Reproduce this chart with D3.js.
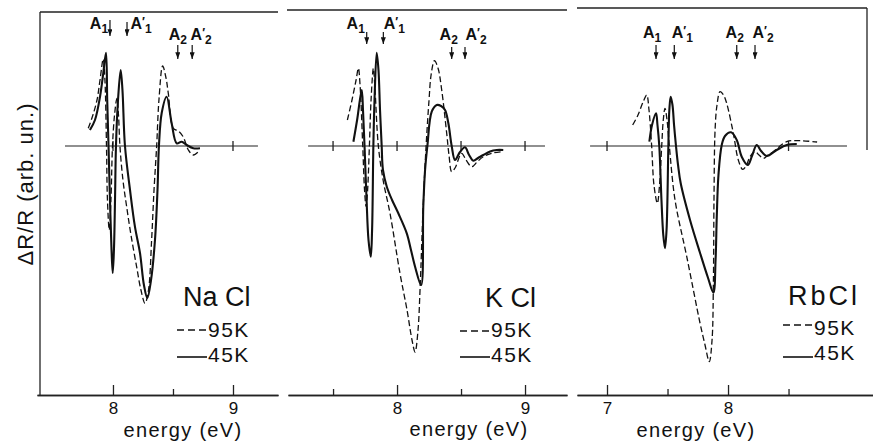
<!DOCTYPE html>
<html>
<head>
<meta charset="utf-8">
<script src="https://cdn.jsdelivr.net/npm/d3@7"></script>
<style>
  body { margin: 0; background: #fff; }
  svg text { font-family: "Liberation Sans", Arial, Helvetica, sans-serif; fill: #111; }
</style>
</head>
<body>
<div id="chart"></div>
<script>
// [energy (eV), dR/R (arb. un.)]
const nacl95 = [[7.794,1.77],[7.833,3.1],[7.867,4.6],[7.892,6.6],[7.919,8.7],[7.933,6.6],[7.946,0],[7.954,-5.4],[7.969,-8.4],[7.983,-5.4],[7.996,0],[8.013,3.1],[8.033,4.77],[8.046,3.1],[8.058,0],[8.083,-3.4],[8.114,-6.07],[8.15,-8.9],[8.197,-12.07],[8.233,-14.4],[8.267,-15.73],[8.296,-14.4],[8.322,-9.4],[8.342,-4.4],[8.364,0],[8.383,4.6],[8.414,8.0],[8.442,6.8],[8.461,5.27],[8.503,1.77],[8.544,1.5],[8.586,0.9],[8.628,-0.4],[8.669,-0.9],[8.725,-0.4]];
const nacl45 = [[7.808,1.6],[7.85,2.6],[7.892,4.93],[7.919,7.27],[7.942,9.33],[7.952,4.6],[7.963,0],[7.975,-5.4],[7.988,-10.4],[7.998,-12.7],[8.008,-10.4],[8.017,-5.4],[8.025,0],[8.042,4.6],[8.064,7.6],[8.079,5.6],[8.1,0],[8.142,-4.4],[8.183,-8.07],[8.225,-10.7],[8.258,-13.9],[8.286,-15.2],[8.317,-13.4],[8.35,-9.4],[8.371,-4.4],[8.383,0],[8.406,3.3],[8.447,4.93],[8.489,2.27],[8.531,0.27],[8.572,0.43],[8.614,0.1],[8.669,-0.23],[8.725,-0.23]];
const kcl95 = [[7.612,2.6],[7.648,4.6],[7.68,6.6],[7.698,7.77],[7.711,6.1],[7.732,0],[7.746,-4.4],[7.758,-6.07],[7.77,-4.4],[7.784,0],[7.797,4.6],[7.815,7.77],[7.828,5.6],[7.854,0],[7.891,-3.4],[7.945,-6.73],[8.023,-12.73],[8.078,-16.4],[8.117,-19.4],[8.141,-20.6],[8.164,-18.4],[8.18,-14.27],[8.203,-6.4],[8.227,0],[8.25,4.6],[8.266,7.1],[8.292,8.53],[8.32,7.8],[8.349,5.6],[8.388,1.27],[8.406,-0.9],[8.427,-2.57],[8.453,-2.2],[8.505,-0.73],[8.539,-1.4],[8.584,-2.07],[8.625,-1.6],[8.674,-1.07],[8.75,-0.7],[8.83,-0.57]];
const kcl45 = [[7.659,0.43],[7.688,2.6],[7.724,5.6],[7.734,3.6],[7.746,0],[7.762,-5.4],[7.777,-9.4],[7.795,-11.07],[7.805,-8.4],[7.815,0],[7.824,4.6],[7.841,9.33],[7.855,7.6],[7.867,3.6],[7.88,0],[7.89,-2.4],[7.92,-4.07],[7.961,-5.4],[8.01,-6.73],[8.076,-8.73],[8.109,-10.4],[8.141,-12.07],[8.188,-13.9],[8.205,-6.07],[8.219,-2.4],[8.237,0],[8.271,3.43],[8.31,4.1],[8.344,4.0],[8.375,3.6],[8.401,2.27],[8.427,0],[8.453,-1.4],[8.492,-0.6],[8.531,-0.13],[8.563,-0.9],[8.596,-1.47],[8.633,-1.2],[8.674,-0.9],[8.727,-0.55],[8.779,-0.4],[8.83,-0.4]];
const rbcl95 = [[7.212,2.1],[7.256,3.1],[7.298,4.4],[7.328,5.1],[7.347,3.6],[7.369,0],[7.388,-3.9],[7.416,-5.73],[7.434,-3.9],[7.452,0],[7.465,2.6],[7.479,3.77],[7.496,2.6],[7.515,0],[7.562,-5.4],[7.659,-11.07],[7.769,-17.73],[7.81,-19.9],[7.845,-21.57],[7.868,-19.4],[7.879,-13.73],[7.884,-5.4],[7.893,1.6],[7.909,4.1],[7.934,5.43],[7.963,5.1],[7.989,4.27],[8.044,1.27],[8.085,-1.4],[8.121,-2.33],[8.149,-2.0],[8.182,-1.07],[8.223,-0.57],[8.256,-0.9],[8.292,-1.23],[8.331,-0.9],[8.374,-0.57],[8.485,0.43],[8.595,0.53],[8.736,0.4]];
const rbcl45 = [[7.35,0.43],[7.372,2.1],[7.405,3.27],[7.417,2.1],[7.432,0],[7.45,-5.4],[7.465,-8.9],[7.479,-10.23],[7.492,-8.4],[7.507,0],[7.515,3.6],[7.526,4.93],[7.541,4.1],[7.554,2.1],[7.57,0],[7.587,-1.9],[7.609,-3.73],[7.686,-7.4],[7.769,-10.7],[7.835,-13.2],[7.879,-14.67],[7.897,-11.4],[7.907,-7.07],[7.921,-2.9],[7.948,0.1],[7.975,1.0],[8.025,1.37],[8.072,0.6],[8.113,-1.07],[8.163,-1.9],[8.198,-1.0],[8.237,0.1],[8.273,-0.5],[8.32,-1.0],[8.402,-0.4],[8.485,0.1],[8.568,0.2]];

const saltNames = ['Na Cl', 'K Cl', 'RbCl'];
const tempLabels = ['95K', '45K'];
const arrowNames = ['A1', "A'1", 'A2', "A'2"];
const naclArrows = [7.975, 8.117, 8.54, 8.66];
const kclArrows = [7.763, 7.893, 8.427, 8.531];
const rbclArrows = [7.405, 7.556, 8.072, 8.223];
const naclMajor = [8, 9], naclMinor = [8.5], naclZeroTicks = [8, 9];
const kclMajor = [8, 9], kclMinor = [7.5, 8.5], kclZeroTicks = [7.5, 8, 8.5, 9];
const rbclMajor = [7, 8], rbclMinor = [7.5, 8.5], rbclZeroTicks = [7, 8.5];

const width = 873, height = 444;
const svg = d3.select('#chart').append('svg')
    .attr('width', width)
    .attr('height', height);

// Arrowhead for the transition markers
svg.append('defs').append('marker')
    .attr('id', 'arrowhead')
    .attr('markerUnits', 'userSpaceOnUse')
    .attr('viewBox', '0 0 6 8')
    .attr('refX', 3).attr('refY', 8)
    .attr('markerWidth', 5).attr('markerHeight', 7)
    .attr('orient', '0')
    .append('path')
    .attr('d', 'M0,0L6,0L3,8Z')
    .attr('fill', '#111');

// Shared vertical scale (arbitrary units)
const yScale = d3.scaleLinear().domain([-24.9, 13.4]).range([395, 12]);

// Y label
svg.append('text')
    .attr('transform', 'translate(33,184) rotate(-90)')
    .attr('text-anchor', 'middle')
    .style('font-size', '22px')
    .style('letter-spacing', '1px')
    .text('ΔR/R (arb. un.)');

class Panel {
    constructor(_config, _data) {
        this.config = {
            xDomain: _config.xDomain,
            xRange: _config.xRange,
            zeroDomain: _config.zeroDomain,
            frameTop: _config.frameTop,
            frameX: _config.frameX,
            axisY: 395,
            arrowDx: _config.arrowDx,
            arrowY: _config.arrowY,
            labelY: _config.labelY,
            nameX: _config.nameX, nameY: _config.nameY, nameSpacing: _config.nameSpacing || 0,
            legendX: _config.legendX, legendY: _config.legendY, legendTextY: _config.legendTextY,
            xLabelX: _config.xLabelX, xLabelY: _config.xLabelY
        };
        this.data = _data;
        this.initVis();
    }

    initVis() {
        let vis = this;
        vis.xScale = d3.scaleLinear().domain(vis.config.xDomain).range(vis.config.xRange);
        vis.chart = svg.append('g');
        vis.line = d3.line()
            .x(d => vis.xScale(d[0]))
            .y(d => yScale(d[1]))
            .curve(d3.curveCatmullRom.alpha(0.5));
        vis.renderVis();
    }

    renderVis() {
        let vis = this;
        const c = vis.config;

        // Top frame line
        vis.chart.append('line')
            .attr('x1', c.frameX[0]).attr('x2', c.frameX[1])
            .attr('y1', c.frameTop).attr('y2', c.frameTop)
            .attr('stroke', '#222').attr('stroke-width', 1.3);

        // Bottom axis: major ticks with labels, minor ticks without
        const major = d3.axisBottom(vis.xScale)
            .tickValues(vis.data.major)
            .tickFormat(d3.format('d'))
            .tickSizeInner(-10).tickSizeOuter(0).tickPadding(7);
        const minor = d3.axisBottom(vis.xScale)
            .tickValues(vis.data.minor)
            .tickFormat('')
            .tickSizeInner(-6).tickSizeOuter(0);
        [minor, major].forEach(ax => {
            const g = vis.chart.append('g')
                .attr('transform', `translate(0,${c.axisY})`)
                .call(ax);
            g.selectAll('path, line').attr('stroke', '#222').attr('stroke-width', 1.3);
            g.selectAll('text')
                .style('font-size', '17px')
                .style('font-family', '"Liberation Sans", Arial, sans-serif')
                .attr('fill', '#111');
        });

        vis.chart.append('text')
            .attr('x', c.xLabelX).attr('y', c.xLabelY)
            .attr('text-anchor', 'middle')
            .style('font-size', '20px')
            .style('letter-spacing', '1.3px')
            .text('energy (eV)');

        // Zero line with crossing ticks
        const y0 = yScale(0);
        vis.chart.append('line')
            .attr('x1', vis.xScale(c.zeroDomain[0])).attr('x2', vis.xScale(c.zeroDomain[1]))
            .attr('y1', y0).attr('y2', y0)
            .attr('stroke', '#222').attr('stroke-width', 1.1);
        vis.chart.selectAll('.zero-tick')
            .data(vis.data.zeroTicks)
            .join('line')
            .attr('class', 'zero-tick')
            .attr('x1', d => vis.xScale(d)).attr('x2', d => vis.xScale(d))
            .attr('y1', y0 - 5).attr('y2', y0 + 5)
            .attr('stroke', '#222').attr('stroke-width', 1.3);

        // Curves
        vis.chart.append('path')
            .datum(vis.data.t95)
            .attr('d', vis.line)
            .attr('fill', 'none')
            .attr('stroke', '#111')
            .attr('stroke-width', 1.3)
            .attr('stroke-dasharray', '6,3');
        vis.chart.append('path')
            .datum(vis.data.t45)
            .attr('d', vis.line)
            .attr('fill', 'none')
            .attr('stroke', '#111')
            .attr('stroke-width', 2.1)
            .attr('stroke-linejoin', 'round');

        // Transition arrows
        const arrows = vis.data.arrows.map((e, i) => ({e: e, name: arrowNames[i], i: i}));
        vis.chart.selectAll('.arrow')
            .data(arrows)
            .join('line')
            .attr('class', 'arrow')
            .attr('x1', d => vis.xScale(d.e)).attr('x2', d => vis.xScale(d.e))
            .attr('y1', d => c.arrowY[d.i][0]).attr('y2', d => c.arrowY[d.i][1] - 6)
            .attr('stroke', '#111').attr('stroke-width', 1.2)
            .attr('marker-end', 'url(#arrowhead)');
        const labels = vis.chart.selectAll('.arrow-label')
            .data(arrows)
            .join('text')
            .attr('class', 'arrow-label')
            .attr('x', d => vis.xScale(d.e) + c.arrowDx[d.i])
            .attr('y', d => c.labelY[d.i])
            .attr('text-anchor', 'middle')
            .style('font-size', '16px')
            .style('font-weight', 'bold');
        labels.append('tspan').text('A');
        labels.filter(d => d.name.includes("'"))
            .append('tspan').attr('dy', -3).style('font-size', '12px').text('′');
        labels.append('tspan')
            .attr('dy', d => d.name.includes("'") ? 7 : 4)
            .style('font-size', '12px')
            .text(d => d.name.slice(-1));

        // Legend
        vis.chart.append('text')
            .attr('x', c.nameX).attr('y', c.nameY)
            .style('font-size', '27px')
            .style('letter-spacing', c.nameSpacing + 'px')
            .text(vis.data.name);
        tempLabels.forEach((t, i) => {
            vis.chart.append('line')
                .attr('x1', c.legendX).attr('x2', c.legendX + 30)
                .attr('y1', c.legendY[i]).attr('y2', c.legendY[i])
                .attr('stroke', '#111')
                .attr('stroke-width', i === 0 ? 1.3 : 1.6)
                .attr('stroke-dasharray', i === 0 ? '7,4' : null);
            vis.chart.append('text')
                .attr('x', c.legendX + 31).attr('y', c.legendTextY[i])
                .style('font-size', '21px')
                .style('letter-spacing', '1.5px')
                .text(t);
        });
    }
}

new Panel({
    xDomain: [7.367, 9.375], xRange: [37, 278], zeroDomain: [7.6, 9.208],
    frameTop: 12, frameX: [40, 278],
    arrowDx: [-11, 14, 0, 9], arrowY: [[20, 42], [22, 42], [45, 65], [45, 65]], labelY: [29, 29, 40, 40],
    nameX: 183, nameY: 306, legendX: 177, legendY: [330, 357], legendTextY: [337, 362],
    xLabelX: 183, xLabelY: 437
}, {name: saltNames[0], t95: nacl95, t45: nacl45, arrows: naclArrows, major: naclMajor, minor: naclMinor, zeroTicks: naclZeroTicks});

new Panel({
    xDomain: [7.148, 9.328], xRange: [288, 567], zeroDomain: [7.305, 9.156],
    frameTop: 10, frameX: [287, 567],
    arrowDx: [-11, 11, -3, 11], arrowY: [[32, 50], [32, 50], [47, 65], [47, 65]], labelY: [29, 29, 40, 40],
    nameX: 485, nameY: 307, legendX: 460, legendY: [331, 357], legendTextY: [337, 362],
    xLabelX: 469, xLabelY: 436
}, {name: saltNames[1], t95: kcl95, t45: kcl45, arrows: kclArrows, major: kclMajor, minor: kclMinor, zeroTicks: kclZeroTicks});

new Panel({
    xDomain: [6.752, 9.198], xRange: [577, 873], zeroDomain: [6.86, 8.983],
    frameTop: 8, frameX: [577, 867],
    arrowDx: [-4, 8, -2, 8], arrowY: [[45, 65], [45, 65], [45, 65], [45, 65]], labelY: [38, 38, 38, 38],
    nameX: 788, nameY: 305, nameSpacing: 3, legendX: 783, legendY: [325, 357], legendTextY: [335, 360],
    xLabelX: 696, xLabelY: 437
}, {name: saltNames[2], t95: rbcl95, t45: rbcl45, arrows: rbclArrows, major: rbclMajor, minor: rbclMinor, zeroTicks: rbclZeroTicks});

// Left and right frame borders
svg.append('line').attr('x1', 40).attr('x2', 40).attr('y1', 12).attr('y2', 395)
    .attr('stroke', '#222').attr('stroke-width', 1.3);
svg.append('line').attr('x1', 867).attr('x2', 867).attr('y1', 8).attr('y2', 150)
    .attr('stroke', '#222').attr('stroke-width', 1.3);
</script>
</body>
</html>
